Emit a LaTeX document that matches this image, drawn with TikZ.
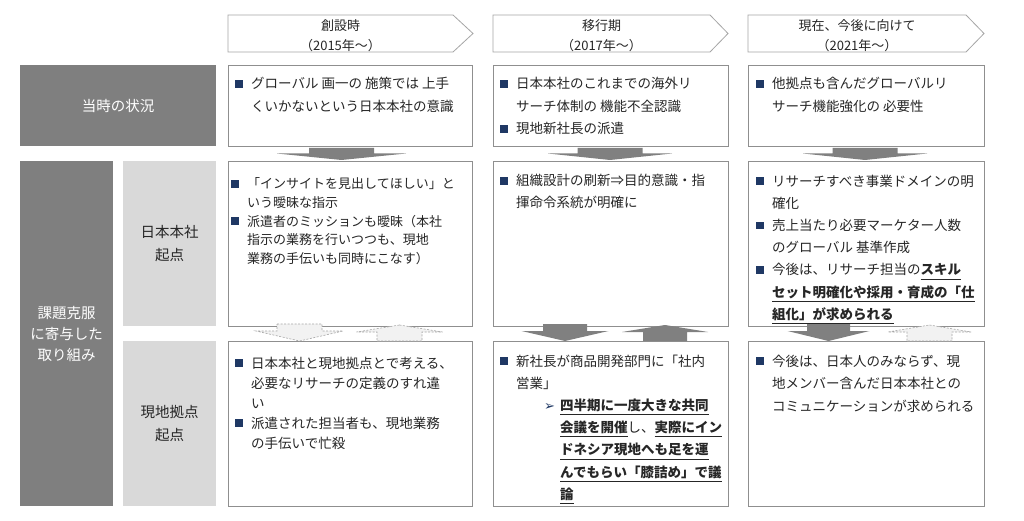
\documentclass[tikz,border=0pt]{standalone}
\usepackage{fontspec}
\setmainfont{Noto Sans CJK JP}
\newfontfamily\dejavu{DejaVu Sans}
\definecolor{navy}{HTML}{1F3864}
\definecolor{darkfill}{HTML}{7F7F7F}
\definecolor{lightfill}{HTML}{D9D9D9}
\definecolor{boxline}{HTML}{8F8F8F}
\definecolor{chevline}{HTML}{A6A6A6}
\definecolor{txt}{HTML}{262626}
\definecolor{arrfill}{HTML}{808080}
\definecolor{dashfill}{HTML}{F2F2F2}
\newcommand\bsq{\makebox[16pt][l]{\textcolor{navy}{\rule[1.2pt]{7.5pt}{7.5pt}}}}
\newcommand\hgi{\hspace*{16pt}}
\newcommand\ubf[1]{\underline{\textbf{#1}\rule[-2.6pt]{0pt}{1pt}}}
\newcommand\subarr{\hspace*{44pt}\makebox[16pt][l]{\textcolor{navy}{\dejavu\fontsize{13}{13}\selectfont ➢}}}
\newcommand\subind{\hspace*{60pt}}
% down block arrow: style, cx, ytop, ywing, ytip, half rect, half wing
\newcommand\DnArrow[7]{\path[#1] ({#2-#6},#3) -- ({#2+#6},#3) -- ({#2+#6},#4) -- ({#2+#7},#4) -- (#2,#5) -- ({#2-#7},#4) -- ({#2-#6},#4) -- cycle;}
% up block arrow: style, cx, ytip, ywing, ybot, half rect, half wing
\newcommand\UpArrow[7]{\path[#1] (#2,#3) -- ({#2+#7},#4) -- ({#2+#6},#4) -- ({#2+#6},#5) -- ({#2-#6},#5) -- ({#2-#6},#4) -- ({#2-#7},#4) -- cycle;}
\tikzset{
  cbox/.style={draw=boxline, fill=white, line width=0.8pt, anchor=north west, inner sep=0pt},
  darkbox/.style={fill=darkfill, anchor=north west, inner sep=0pt, text=white, align=center, font=\fontsize{14.5}{21}\selectfont},
  lightbox/.style={fill=lightfill, anchor=north west, inner sep=0pt, text=txt, align=center, font=\fontsize{14.5}{23}\selectfont},
  chev/.style={draw=chevline, fill=white, line width=0.8pt},
  hdr/.style={align=center, inner sep=0pt, text=txt, font=\fontsize{13}{20}\selectfont},
  body/.style={anchor=base west, align=left, inner sep=0pt, text=txt},
  solidarr/.style={fill=arrfill},
  dasharr/.style={fill=dashfill, draw=chevline, line width=0.6pt, dash pattern=on 2pt off 1.5pt}
}
\begin{document}
\begin{tikzpicture}[x=1pt, y=-1pt]
\useasboundingbox (0,0) rectangle (1024,521);
\fill[white] (0,0) rectangle (1024,521);

% header chevrons
\draw[chev] (228,15) -- (453,15) -- (473,33.5) -- (453,52) -- (228,52) -- cycle;
\node[hdr] (h1) at (340.5,36) {創設時\\（2015年～）};
\draw[chev] (493,15) -- (710,15) -- (728,33.5) -- (710,52) -- (493,52) -- cycle;
\node[hdr] (h2) at (601.5,36) {移行期\\（2017年～）};
\draw[chev] (748,15) -- (966,15) -- (984,33.5) -- (966,52) -- (748,52) -- cycle;
\node[hdr] (h3) at (857,36) {現在、今後に向けて\\（2021年～）};

% side labels
\node[darkbox, minimum width=196pt, minimum height=81pt] (s1) at (20,65) {当時の状況};
\node[darkbox, minimum width=93pt, minimum height=345pt] (s2) at (20,161) {課題克服\\に寄与した\\取り組み};
\node[lightbox, minimum width=93pt, minimum height=165pt] (s3) at (123,161) {日本本社\\起点};
\node[lightbox, minimum width=93pt, minimum height=165pt] (s4) at (123,341) {現地拠点\\起点};

% content boxes
\node[cbox, minimum width=244pt, minimum height=81pt] (b11) at (228,65) {};
\node[cbox, minimum width=235pt, minimum height=81pt] (b12) at (493,65) {};
\node[cbox, minimum width=236pt, minimum height=81pt] (b13) at (748,65) {};
\node[cbox, minimum width=244pt, minimum height=165pt] (b21) at (228,161) {};
\node[cbox, minimum width=235pt, minimum height=165pt] (b22) at (493,161) {};
\node[cbox, minimum width=236pt, minimum height=165pt] (b23) at (748,161) {};
\node[cbox, minimum width=244pt, minimum height=165pt] (b31) at (228,341) {};
\node[cbox, minimum width=235pt, minimum height=165pt] (b32) at (493,341) {};
\node[cbox, minimum width=236pt, minimum height=165pt] (b33) at (748,341) {};

% texts row 1 (anchored at the baseline of the last line)
\node[body, font=\fontsize{13.5}{22.5}\selectfont] (t11) at (235,111.5) {\bsq グローバル 画一の 施策では 上手\\\hgi くいかないという日本本社の意識};
\node[body, font=\fontsize{13.5}{22.5}\selectfont] (t12) at (500,134) {\bsq 日本本社のこれまでの海外リ\\\hgi サーチ体制の 機能不全認識\\\bsq 現地新社長の派遣};
\node[body, font=\fontsize{13.5}{22.5}\selectfont] (t13) at (756,111.5) {\bsq 他拠点も含んだグローバルリ\\\hgi サーチ機能強化の 必要性};

% texts row 2
\node[body, font=\fontsize{13}{18.6}\selectfont] (t21) at (231,263.4) {\bsq「インサイトを見出してほしい」と\\\hgi いう曖昧な指示\\\bsq 派遣者のミッションも曖昧（本社\\\hgi 指示の業務を行いつつも、現地\\\hgi 業務の手伝いも同時にこなす）};
\node[body, font=\fontsize{13.5}{22}\selectfont] (t22) at (500,208) {\bsq 組織設計の刷新⇒目的意識・指\\\hgi 揮命令系統が明確に};
\node[body, font=\fontsize{13.5}{22.2}\selectfont] (t23) at (756,319.2) {\bsq リサーチすべき事業ドメインの明\\\hgi 確化\\\bsq 売上当たり必要マーケター人数\\\hgi のグローバル 基準作成\\\bsq 今後は、リサーチ担当の\ubf{スキル}\\\hgi\ubf{セット明確化や採用・育成の「仕}\\\hgi\ubf{組化」が求められる}};

% texts row 3
\node[body, font=\fontsize{13.5}{20}\selectfont] (t31) at (235,448) {\bsq 日本本社と現地拠点とで考える、\\\hgi 必要なリサーチの定義のすれ違\\\hgi い\\\bsq 派遣された担当者も、現地業務\\\hgi の手伝いで忙殺};
\node[body, font=\fontsize{13.5}{22.2}\selectfont] (t32) at (500,499.2) {\bsq 新社長が商品開発部門に「社内\\\hgi 営業」\\\subarr\ubf{四半期に一度大きな共同}\\\subind\ubf{会議を開催}し、\ubf{実際にイン}\\\subind\ubf{ドネシア現地へも足を運}\\\subind\ubf{んでもらい「膝詰め」で議}\\\subind\ubf{論}};
\node[body, font=\fontsize{13.5}{22.5}\selectfont] (t33) at (756,411) {\bsq 今後は、日本人のみならず、現\\\hgi 地メンバー含んだ日本本社との\\\hgi コミュニケーションが求められる};

% block arrows row1 -> row2
\DnArrow{solidarr}{341.5}{148}{153.5}{160}{32.5}{64.5}
\DnArrow{solidarr}{610}{148}{153.5}{160}{32.5}{62}
\DnArrow{solidarr}{865}{148}{153.5}{160}{32.5}{62}

% block arrows row2 <-> row3
\DnArrow{dasharr}{299.5}{324}{331}{341}{22.5}{43.5}
\UpArrow{dasharr}{399.5}{325}{332}{341}{22.5}{43}
\DnArrow{solidarr}{565}{324}{331}{341}{22}{43.5}
\UpArrow{solidarr}{665}{325}{332}{341}{22}{43}
\DnArrow{solidarr}{828.5}{324}{331}{341}{21.5}{41}
\UpArrow{dasharr}{929.5}{325}{332}{341}{22.5}{41.5}
\end{tikzpicture}
\end{document}
